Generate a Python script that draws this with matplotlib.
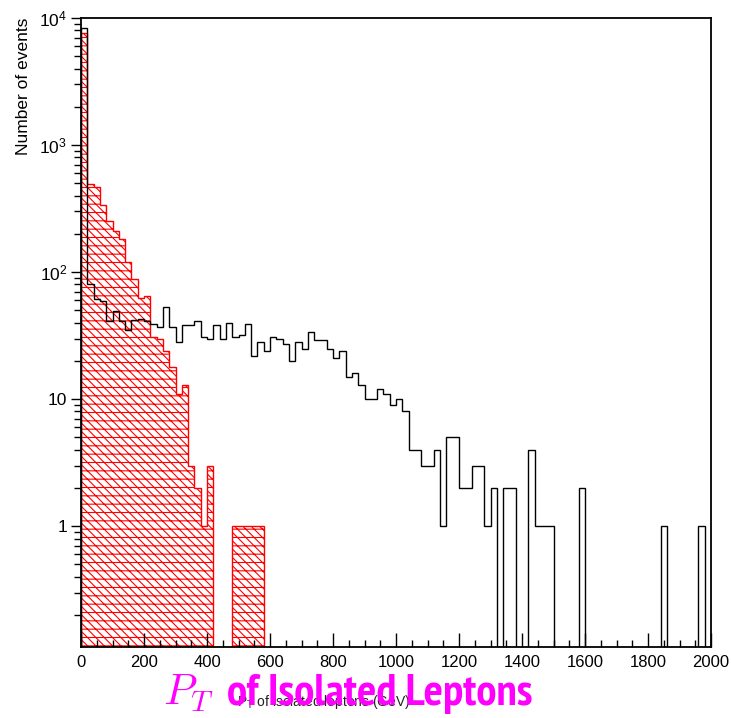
import numpy as np
import matplotlib
matplotlib.use('Agg')
import matplotlib.pyplot as plt
from matplotlib import font_manager
from matplotlib.ticker import FixedLocator, FixedFormatter, LogLocator, MultipleLocator, NullFormatter

# 100 bins of 20 GeV from 0 to 2000
edges = np.arange(0, 2001, 20)

# red hatched histogram (counts per bin, first 30 bins, rest empty)
red_counts = [7600, 490, 470, 337, 252, 211, 181, 120, 88, 63,
              65, 31, 30, 24, 18, 11, 13, 3, 2, 1,
              3, 0, 0, 0, 1, 1, 1, 1, 1, 0]
# black outline histogram
black_counts = [8300, 81, 61, 59, 41, 49, 41, 35, 42, 43,
                41, 39, 37, 53, 37, 28, 38, 38, 41, 31,
                30, 38, 30, 40, 31, 32, 39, 22, 28, 24,
                31, 30, 27, 20, 28, 25, 34, 29, 29, 25,
                21, 24, 15, 16, 13, 10, 10, 12, 11, 9,
                10, 8, 4, 4, 3, 3, 4, 1, 5, 5,
                2, 2, 3, 3, 1, 2, 0, 2, 2, 0,
                0, 4, 1, 1, 1, 0, 0, 0, 0, 2,
                0, 0, 0, 0, 0, 0, 0, 0, 0, 0,
                0, 0, 1, 0, 0, 0, 0, 0, 1, 0]

ytick_vals = [1, 10, 100, 1000, 10000]
ytick_labels = ['1', '10', r'$\mathregular{10^{2}}$', r'$\mathregular{10^{3}}$', r'$\mathregular{10^{4}}$']

plt.rcParams['font.family'] = ['Liberation Sans', 'DejaVu Sans']
plt.rcParams['mathtext.fontset'] = 'custom'
plt.rcParams['mathtext.rm'] = 'Liberation Sans'
plt.rcParams['mathtext.it'] = 'Liberation Sans:italic'
plt.rcParams['hatch.linewidth'] = 0.8


def narrow_bold_font():
    # prefer a narrow bold face, then a condensed one, else plain DejaVu bold
    files = [f.fname for f in font_manager.fontManager.ttflist]
    for key, size in (('narrow', 32.5), ('condensed', 24.5)):
        for fn in files:
            low = fn.lower()
            if key in low and 'bold' in low and 'italic' not in low and 'oblique' not in low:
                return font_manager.FontProperties(fname=fn, size=size)
    return font_manager.FontProperties(family='DejaVu Sans', weight='bold', size=22)


W, H = 731, 718
fig = plt.figure(figsize=(W / 100, H / 100), dpi=100)
ax = fig.add_axes([81 / W, 1 - 647 / H, 630 / W, 629 / H])

# zero bins pushed far below the axis so they get clipped like in ROOT
red = np.zeros(len(edges) - 1)
red[:len(red_counts)] = red_counts
red = np.where(red > 0, red, 1e-3)
black = np.where(np.array(black_counts) > 0, black_counts, 1e-3)

ax.stairs(red, edges, baseline=1e-3, fill=True, facecolor='white',
          edgecolor='red', hatch='\\\\\\\\--', linewidth=1.0)
ax.stairs(black, edges, baseline=1e-3, color='black', linewidth=1.0)

ax.set_yscale('log')
ax.set_xlim(0, 2000)
ax.set_ylim(0.112, 10000)

ax.yaxis.set_major_locator(FixedLocator(ytick_vals))
ax.yaxis.set_major_formatter(FixedFormatter(ytick_labels))
ax.yaxis.set_minor_locator(LogLocator(base=10, subs=np.arange(2, 10)))
ax.yaxis.set_minor_formatter(NullFormatter())
ax.xaxis.set_major_locator(MultipleLocator(200))
ax.xaxis.set_minor_locator(MultipleLocator(50))

ax.tick_params(axis='y', which='major', direction='out', length=7, width=1, labelsize=12.5, pad=3)
ax.tick_params(axis='y', which='minor', direction='out', length=5, width=1)
ax.tick_params(axis='x', which='major', direction='in', length=10, width=1, labelsize=12, pad=6)
ax.tick_params(axis='x', which='minor', direction='in', length=5, width=1)
for s in ax.spines.values():
    s.set_linewidth(1.3)

ax.set_ylabel('Number of events', loc='top', fontsize=12.5)
ax.yaxis.set_label_coords(-0.08, 1.0)

fig.text(237 / W, 1 - 702 / H, r'$\mathregular{P_T}$ of isolated leptons (GeV)', fontsize=10,
         color='#222222', ha='left', va='center')

# big magenta overlay title: math P_T and the bold words
fig.text(163 / W, 1 - 705 / H, r'$P_T$', color='magenta', fontsize=31,
         math_fontfamily='cm', ha='left', va='baseline')
fig.text(227 / W, 1 - 705 / H, 'of Isolated Leptons', color='magenta',
         fontproperties=narrow_bold_font(), ha='left', va='baseline')

fig.savefig('out.png', dpi=100)
